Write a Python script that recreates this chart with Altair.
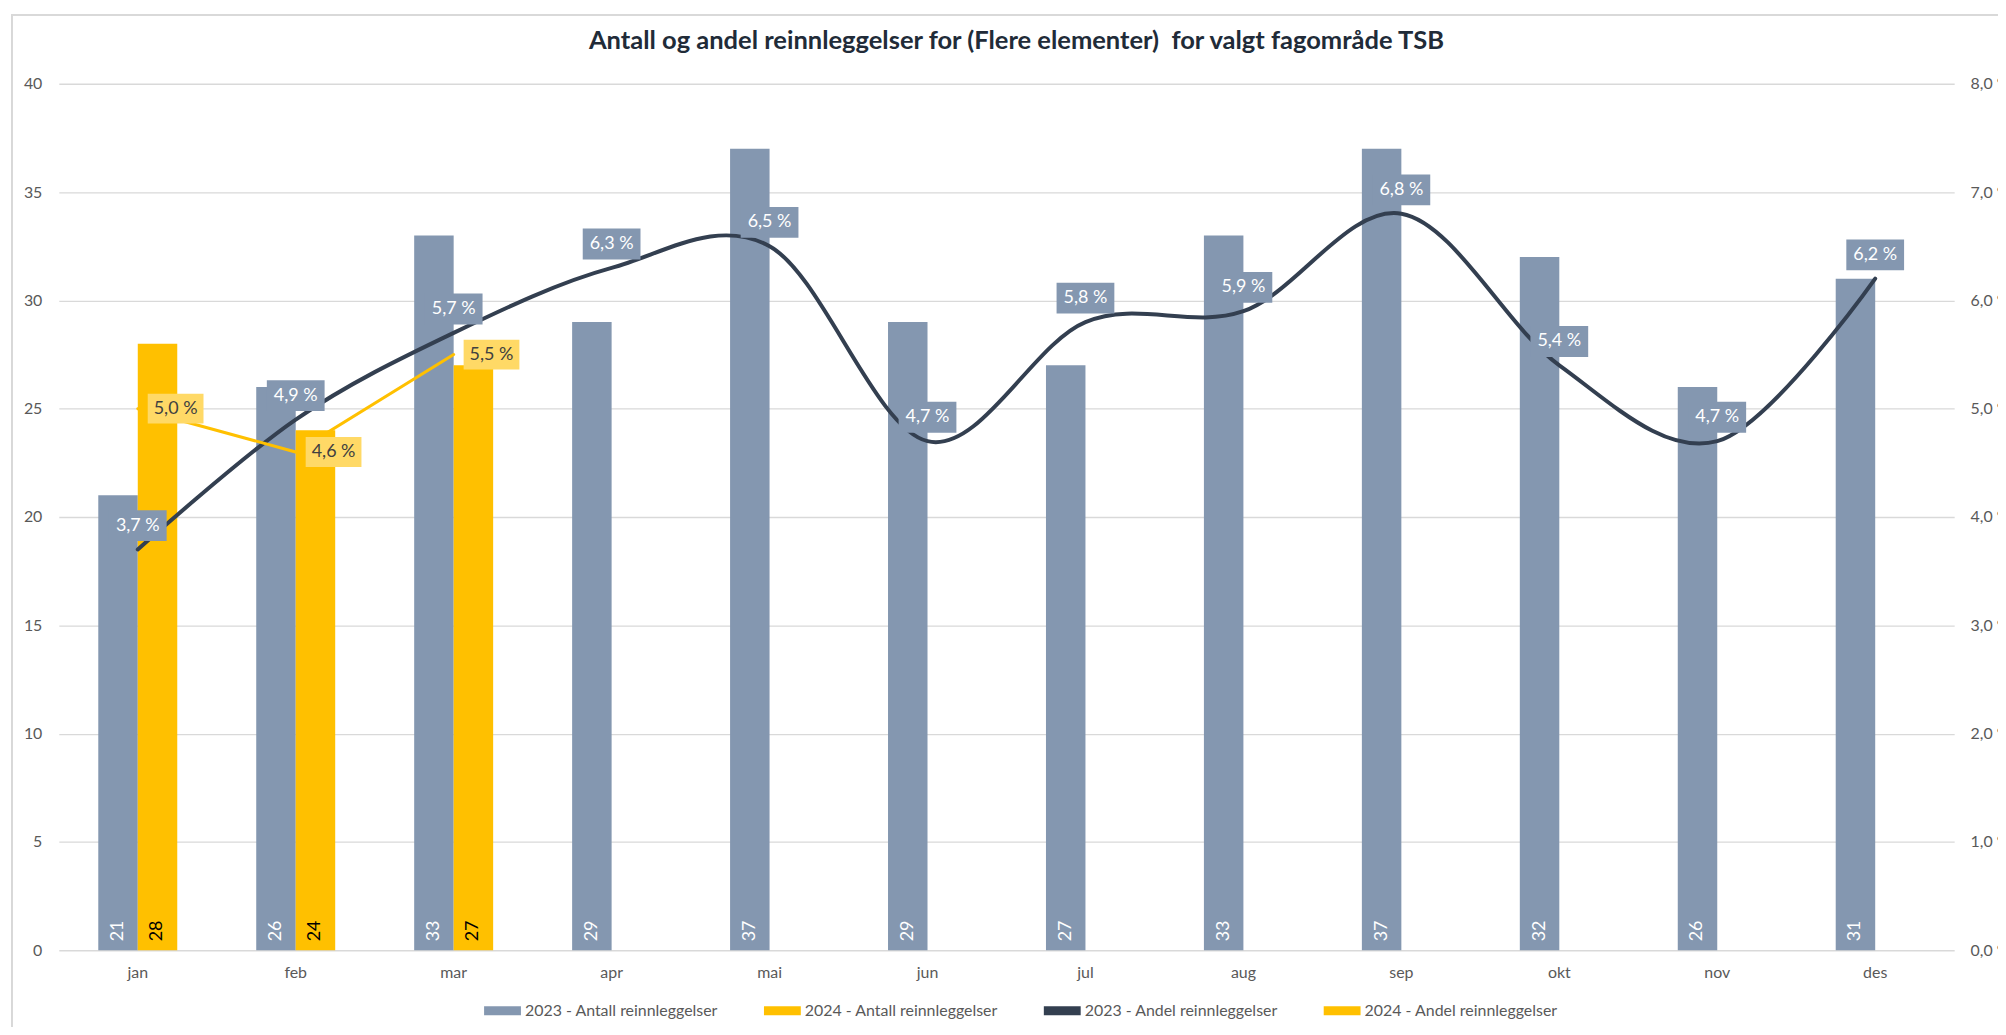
import altair as alt
import pandas as pd

months = ["jan", "feb", "mar", "apr", "mai", "jun", "jul", "aug", "sep", "okt", "nov", "des"]
antall_2023 = [21, 26, 33, 29, 37, 29, 27, 33, 37, 32, 26, 31]
antall_2024 = [28, 24, 27]
andel_2023 = [3.7, 4.9, 5.7, 6.3, 6.5, 4.7, 5.8, 5.9, 6.8, 5.4, 4.7, 6.2]
andel_2024 = [5.0, 4.6, 5.5]

series = ["2023 - Antall reinnleggelser", "2024 - Antall reinnleggelser",
          "2023 - Andel reinnleggelser", "2024 - Andel reinnleggelser"]
colors = ["#8497B0", "#FFC000", "#333F50", "#FFC000"]

title = "Antall og andel reinnleggelser for (Flere elementer)\u00a0 for valgt fagområde TSB"

FONT = "Lato"

bars_df = pd.DataFrame(
    [{"month": m, "series": series[0], "value": v, "zero": 0, "label": str(v)} for m, v in zip(months, antall_2023)]
    + [{"month": m, "series": series[1], "value": v, "zero": 0, "label": str(v)} for m, v in zip(months, antall_2024)]
)


def pct_label(v):
    return f"{v:.1f}".replace(".", ",") + " %"


df23 = pd.DataFrame({"month": months, "pct": andel_2023, "label": [pct_label(v) for v in andel_2023]})
df24 = pd.DataFrame({"month": months[:3], "pct": andel_2024, "label": [pct_label(v) for v in andel_2024]})

xenc = alt.X("month:N", sort=months,
             scale=alt.Scale(domain=months, paddingInner=0.5, paddingOuter=0.25),
             axis=alt.Axis(title=None, labelAngle=0, ticks=False, tickSize=0, domain=False,
                           labelPadding=14, labelFontSize=16, labelColor="#595959", labelFont=FONT))
xoff = alt.XOffset("series:N", scale=alt.Scale(domain=series[:2], paddingInner=0, paddingOuter=0))

yleft_scale = alt.Scale(domain=[0, 40], nice=False)
yleft_axis = alt.Axis(title=None, values=[0, 5, 10, 15, 20, 25, 30, 35, 40], grid=True,
                      ticks=False, tickSize=0, domain=False, labelPadding=17,
                      labelFontSize=16, labelColor="#595959", labelFont=FONT)

bars = alt.Chart(bars_df).mark_bar().encode(
    x=xenc,
    xOffset=xoff,
    y=alt.Y("value:Q", scale=yleft_scale, axis=yleft_axis),
    color=alt.Color("series:N", scale=alt.Scale(domain=series, range=colors),
                    legend=alt.Legend(title=None, orient="none", legendX=427, legendY=912,
                                      direction="horizontal", columns=4, gridAlign="all",
                                      columnPadding=45, padding=0,
                                      symbolType="M-1,-0.243L1,-0.243L1,0.243L-1,0.243Z",
                                      symbolSize=1369, symbolStrokeWidth=0, labelOffset=4,
                                      labelFontSize=16, labelColor="#595959", labelFont=FONT,
                                      labelLimit=400)),
)

bar_text = alt.Chart(bars_df).mark_text(angle=270, align="left", baseline="middle", dx=9,
                                        fontSize=18, font=FONT).encode(
    x=xenc,
    xOffset=xoff,
    y=alt.Y("zero:Q", scale=yleft_scale, axis=yleft_axis),
    text="label:N",
    color=alt.condition(alt.datum.series == series[0], alt.value("white"), alt.value("black")),
)

frame = alt.Chart(bars_df).mark_rect(fill="transparent", stroke="#D9D9D9", strokeWidth=1.5).encode(
    x=alt.value(-47), x2=alt.value(2100), y=alt.value(-69), y2=alt.value(1200))

left = alt.layer(frame, bars, bar_text)

yr_scale = alt.Scale(domain=[0, 8], nice=False)
yr_axis = alt.Axis(title=None, orient="right", values=[0, 1, 2, 3, 4, 5, 6, 7, 8], grid=False,
                   ticks=False, tickSize=0, domain=False, labelPadding=16, labelFontSize=16,
                   labelColor="#595959", labelFont=FONT,
                   labelExpr="replace(format(datum.value, '.1f'), '.', ',') + ' %'")

line23 = alt.Chart(df23).mark_line(color="#333F50", strokeWidth=4, interpolate="cardinal",
                                   strokeCap="round").encode(
    x=xenc, y=alt.Y("pct:Q", scale=yr_scale, axis=yr_axis))
line24 = alt.Chart(df24).mark_line(color="#FFC000", strokeWidth=3, strokeCap="round").encode(
    x=xenc, y=alt.Y("pct:Q", scale=yr_scale, axis=yr_axis))

box_shape = "M-1,-0.534L1,-0.534L1,0.534L-1,0.534Z"
box23 = alt.Chart(df23).mark_point(shape=box_shape, size=3364, filled=True, opacity=1,
                                   color="#8497B0", strokeWidth=0, yOffset=-24).encode(
    x=xenc, y=alt.Y("pct:Q", scale=yr_scale, axis=yr_axis))
box24 = alt.Chart(df24).mark_point(shape=box_shape, size=3136, filled=True, opacity=1,
                                   color="#FFD966", strokeWidth=0, xOffset=38).encode(
    x=xenc, y=alt.Y("pct:Q", scale=yr_scale, axis=yr_axis))
text23 = alt.Chart(df23).mark_text(fontSize=18, font=FONT, color="white", dy=-24,
                                   baseline="middle").encode(
    x=xenc, y=alt.Y("pct:Q", scale=yr_scale, axis=yr_axis), text="label:N")
text24 = alt.Chart(df24).mark_text(fontSize=18, font=FONT, color="#404040", dx=38,
                                   baseline="middle").encode(
    x=xenc, y=alt.Y("pct:Q", scale=yr_scale, axis=yr_axis), text="label:N")

right = alt.layer(line23, line24, box23, box24, text23, text24)

chart = alt.layer(left, right).resolve_scale(y="independent").properties(
    width=1903, height=870,
    autosize=alt.AutoSizeParams(type="none"),
    padding={"left": 51, "top": 74, "right": 44, "bottom": 75},
    background="white",
    title=alt.TitleParams(title, font=FONT, fontSize=25.6, fontWeight="bold", color="#212B38",
                          anchor="middle", offset=0, dy=65, dx=10, baseline="bottom"),
).configure_view(stroke=None).configure_axis(gridColor="#D9D9D9", gridWidth=1.3)

chart.save("out.html", embed_options={"renderer": "svg", "actions": False})
